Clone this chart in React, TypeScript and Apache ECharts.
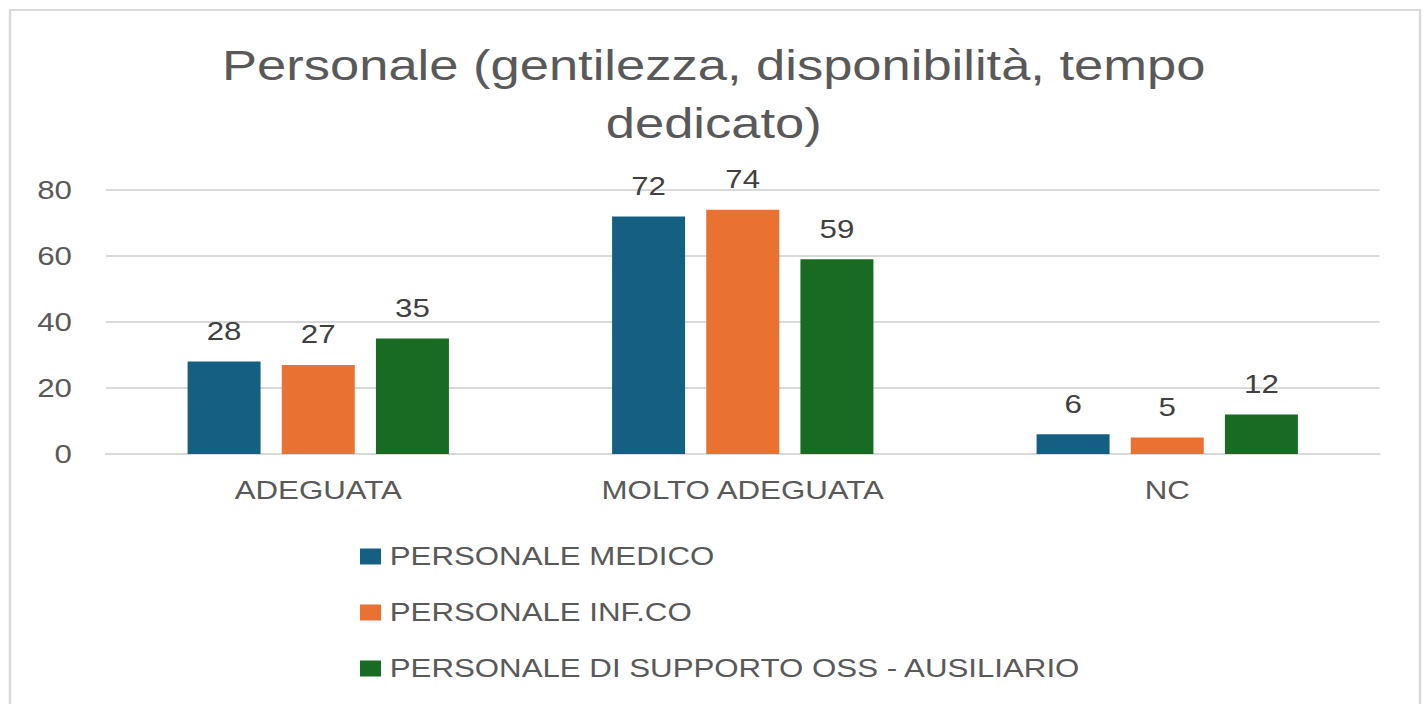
import React, { useEffect, useRef } from "react";
import * as echarts from "echarts";

const categories = ["ADEGUATA", "MOLTO ADEGUATA", "NC"];
const seriesNames = [
  "PERSONALE MEDICO",
  "PERSONALE INF.CO",
  "PERSONALE DI SUPPORTO OSS - AUSILIARIO",
];
const medico = [28, 72, 6];
const infermieristico = [27, 74, 5];
const supporto = [35, 59, 12];
const colors = ["#156082", "#E97132", "#196B24"];
const titleText = "Personale (gentilezza, disponibilità, tempo\ndedicato)";

// horizontal stretch of the reference picture
const S = 1.25;
const W = 1427 / S;
const H = 704;

export default function App() {
  const ref = useRef<HTMLDivElement>(null);
  useEffect(() => {
    if (!ref.current) return;
    const chart = echarts.init(ref.current, null, { renderer: "svg" });
    const values = [medico, infermieristico, supporto];
    chart.setOption({
      animation: false,
      backgroundColor: "#ffffff",
      textStyle: { fontFamily: "'Liberation Sans', Arial, sans-serif" },
      title: {
        text: titleText,
        left: "center",
        top: 31,
        textStyle: {
          fontSize: 42,
          lineHeight: 58,
          color: "#595959",
          fontWeight: "normal",
        },
      },
      graphic: [
        {
          type: "rect",
          silent: true,
          z: -1,
          shape: { x: 10 / S, y: 10, width: 1410 / S, height: 720 },
          style: { fill: "none", stroke: "#d9d9d9", lineWidth: 2 },
        },
      ],
      grid: {
        left: 106 / S,
        right: (1427 - 1379) / S,
        top: 190,
        bottom: H - 454,
        containLabel: false,
      },
      legend: {
        orient: "vertical",
        left: 360 / S,
        top: 544,
        padding: 0,
        itemWidth: 16.8,
        itemHeight: 16,
        itemGap: 31,
        icon: "rect",
        textStyle: { fontSize: 25, color: "#595959", padding: [0, 0, 0, 2] },
        data: seriesNames,
      },
      xAxis: {
        type: "category",
        data: categories,
        axisLine: { show: true, lineStyle: { color: "#d9d9d9", width: 2 } },
        axisTick: { show: false },
        axisLabel: { fontSize: 25, color: "#595959", margin: 24 },
      },
      yAxis: {
        type: "value",
        min: 0,
        max: 80,
        interval: 20,
        axisLine: { show: false },
        axisTick: { show: false },
        axisLabel: { fontSize: 25, color: "#595959", margin: 34 / S },
        splitLine: { lineStyle: { color: "#d9d9d9", width: 2 } },
      },
      series: seriesNames.map((name, i) => ({
        name,
        type: "bar",
        data: values[i],
        barWidth: 73 / S,
        barGap: "29%",
        itemStyle: { color: colors[i] },
        label: {
          show: true,
          position: "top",
          distance: 18,
          fontSize: 25,
          color: "#404040",
        },
      })),
    });
    return () => chart.dispose();
  }, []);
  return (
    <div
      ref={ref}
      style={{
        position: "absolute",
        left: 0,
        top: 0,
        width: W,
        height: H,
        transform: `scaleX(${S})`,
        transformOrigin: "0 0",
      }}
    />
  );
}
